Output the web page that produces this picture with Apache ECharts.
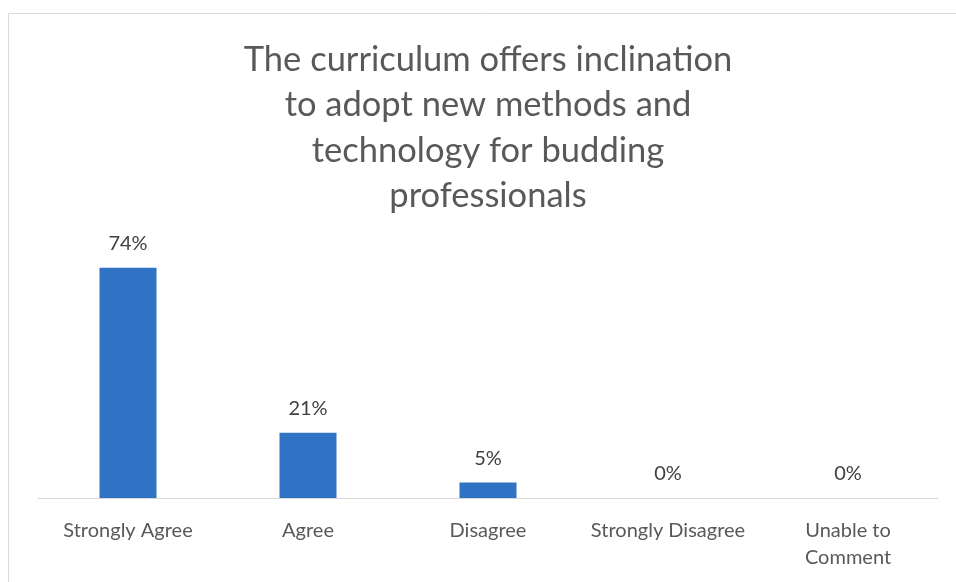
<!DOCTYPE html>
<html>
<head>
<meta charset="utf-8">
<script src="https://cdn.jsdelivr.net/npm/echarts@6/dist/echarts.min.js"></script>
<style>html,body{margin:0;padding:0;background:#fff}#c{width:956px;height:582px}</style>
</head>
<body>
<div id="c"></div>
<script>
const categories = ['Strongly Agree', 'Agree', 'Disagree', 'Strongly Disagree', 'Unable to\nComment'];
const values = [74, 21, 5, 0, 0];
const titleText = 'The curriculum offers inclination\nto adopt new methods and\ntechnology for budding\nprofessionals';

const chart = echarts.init(document.getElementById('c'));
chart.setOption({
  animation: false,
  graphic: [{
    type: 'rect', shape: {x: 8.5, y: 13.5, width: 1000, height: 1000},
    style: {fill: 'none', stroke: '#d9d9d9', lineWidth: 1}, silent: true
  }],
  title: {
    text: titleText, left: 483, top: 32, textAlign: 'center',
    textStyle: {fontFamily: 'Lato', fontSize: 34.5, fontWeight: 'normal', color: '#595959', lineHeight: 45.5}
  },
  grid: {left: 38, right: 18, top: 249, bottom: 84},
  xAxis: {
    type: 'category', data: categories,
    axisLine: {lineStyle: {color: '#d9d9d9', width: 1}},
    axisTick: {show: false},
    axisLabel: {color: '#595959', fontFamily: 'Lato', fontSize: 20, margin: 19, lineHeight: 27, interval: 0}
  },
  yAxis: {type: 'value', min: 0, max: 80, show: false, splitLine: {show: false}},
  series: [{
    type: 'bar', data: values, barWidth: 57,
    itemStyle: {color: '#3072c4'},
    label: {show: true, position: 'top', distance: 14, formatter: '{c}%', color: '#404040', fontFamily: 'Lato', fontSize: 20}
  }]
});
</script>
</body>
</html>
